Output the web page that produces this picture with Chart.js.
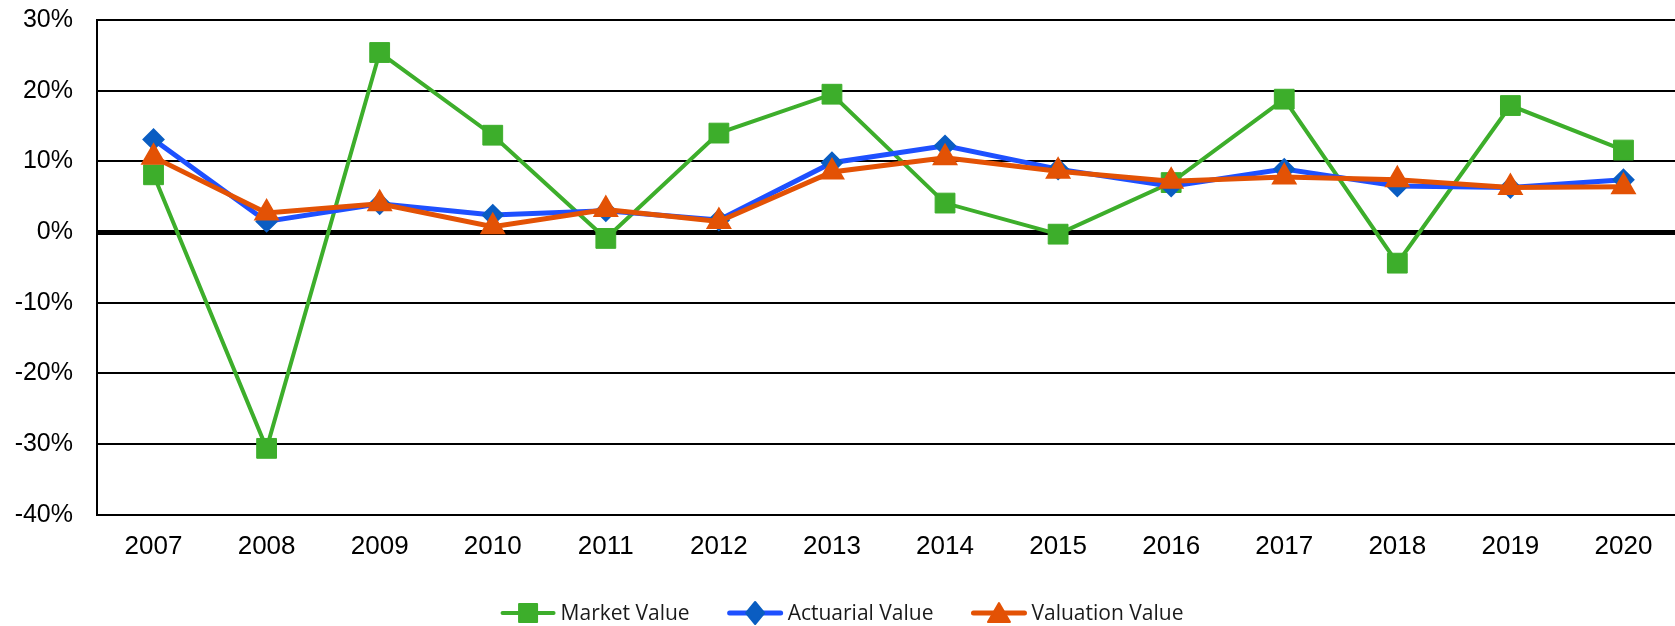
<!DOCTYPE html>
<html>
<head>
<meta charset="utf-8">
<script src="https://cdn.jsdelivr.net/npm/chart.js@4"></script>
<style>
  html, body { margin: 0; padding: 0; background: #fff; overflow: hidden; }
  #wrap { width: 1675px; height: 626px; overflow: hidden; position: relative; }
  canvas { display: block; }
</style>
</head>
<body>
<div id="wrap"><canvas id="c" width="1680" height="626"></canvas></div>
<script>
const years = ['2007','2008','2009','2010','2011','2012','2013','2014','2015','2016','2017','2018','2019','2020'];
const marketValue = [8.1, -30.6, 25.4, 13.7, -0.9, 14.0, 19.5, 4.1, -0.3, 7.0, 18.8, -4.4, 17.9, 11.6];
const actuarialValue = [13.1, 1.5, 4.0, 2.4, 3.0, 1.7, 9.8, 12.2, 8.9, 6.5, 8.9, 6.5, 6.3, 7.4];
const valuationValue = [10.6, 2.7, 4.0, 0.75, 3.2, 1.5, 8.5, 10.5, 8.6, 7.2, 7.8, 7.4, 6.3, 6.4];
const seriesNames = ['Market Value', 'Actuarial Value', 'Valuation Value'];
const yMin = -40, yMax = 30, yStep = 10;

const GREEN = '#3DAE2B';
const BLUE_LINE = '#1E50FF';
const BLUE_MARK = '#0A5DC2';
const ORANGE = '#E35205';

const legendSpec = [
  { text: seriesNames[0], line: GREEN, mark: GREEN, lw: 4, shape: 'square' },
  { text: seriesNames[1], line: BLUE_LINE, mark: BLUE_MARK, lw: 5, shape: 'diamond' },
  { text: seriesNames[2], line: ORANGE, mark: ORANGE, lw: 5, shape: 'triangle' }
];

function drawShape(ctx, shape, x, y, color) {
  ctx.save();
  ctx.fillStyle = color;
  ctx.strokeStyle = color;
  ctx.lineJoin = 'round';
  ctx.lineWidth = 2;
  ctx.beginPath();
  if (shape === 'square') {
    ctx.rect(x - 9, y - 9, 18, 18);
  } else if (shape === 'diamond') {
    ctx.moveTo(x, y - 11); ctx.lineTo(x + 9, y); ctx.lineTo(x, y + 11); ctx.lineTo(x - 9, y); ctx.closePath();
  } else {
    ctx.moveTo(x, y - 10); ctx.lineTo(x + 11, y + 9); ctx.lineTo(x - 11, y + 9); ctx.closePath();
  }
  ctx.fill(); ctx.stroke();
  ctx.restore();
}

const lineLegend = {
  id: 'lineLegend',
  afterDraw(chart) {
    const ctx = chart.ctx;
    ctx.save();
    ctx.font = '21px "Open Sans"';
    ctx.textBaseline = 'middle';
    ctx.fillStyle = '#1a1a1a';
    const lineLen = 55, gapText = 5, gapItem = 38;
    const widths = legendSpec.map(s => lineLen + gapText + ctx.measureText(s.text).width);
    const total = widths.reduce((a, b) => a + b, 0) + gapItem * (legendSpec.length - 1);
    let x = 842 - total / 2;
    const y = 613;
    legendSpec.forEach((s, i) => {
      ctx.save();
      ctx.strokeStyle = s.line;
      ctx.lineWidth = s.lw;
      ctx.lineCap = 'round';
      ctx.beginPath(); ctx.moveTo(x + 2, y); ctx.lineTo(x + lineLen - 2, y); ctx.stroke();
      ctx.restore();
      drawShape(ctx, s.shape, x + lineLen / 2, y, s.mark);
      ctx.fillText(s.text, x + lineLen + gapText, y + 1);
      x += widths[i] + gapItem;
    });
    ctx.restore();
  }
};

new Chart(document.getElementById('c'), {
  type: 'line',
  data: {
    labels: years,
    datasets: [
      {
        label: seriesNames[0], data: marketValue, order: 3,
        borderColor: GREEN, backgroundColor: GREEN, borderWidth: 4,
        pointStyle: 'rect', pointRadius: 14, pointHoverRadius: 14,
        pointBackgroundColor: GREEN, pointBorderColor: GREEN, pointBorderWidth: 1,
        tension: 0
      },
      {
        label: seriesNames[1], data: actuarialValue, order: 2,
        borderColor: BLUE_LINE, backgroundColor: BLUE_MARK, borderWidth: 5,
        pointStyle: 'rectRot', pointRadius: 10, pointHoverRadius: 10,
        pointBackgroundColor: BLUE_MARK, pointBorderColor: BLUE_MARK, pointBorderWidth: 2,
        tension: 0
      },
      {
        label: seriesNames[2], data: valuationValue, order: 1,
        borderColor: ORANGE, backgroundColor: ORANGE, borderWidth: 5,
        pointStyle: 'triangle', pointRadius: 13, pointHoverRadius: 13,
        pointBackgroundColor: ORANGE, pointBorderColor: ORANGE, pointBorderWidth: 2,
        tension: 0
      }
    ]
  },
  options: {
    responsive: false,
    animation: false,
    devicePixelRatio: 1,
    layout: { autoPadding: false, padding: { top: 20, right: 0, left: 0, bottom: 48 } },
    plugins: {
      legend: { display: false },
      tooltip: { enabled: false }
    },
    scales: {
      x: {
        offset: true,
        grid: { display: false, drawTicks: false },
        border: { display: false },
        ticks: {
          color: '#000',
          padding: 16,
          maxRotation: 0,
          autoSkip: false,
          font: { family: '"Liberation Sans", Arial, sans-serif', size: 26 }
        }
      },
      y: {
        min: yMin, max: yMax,
        afterFit(scale) { scale.width = 97; scale.paddingTop = 0; scale.paddingBottom = 0; },
        grid: {
          drawTicks: false,
          color: '#000',
          lineWidth: (c) => (c.tick && c.tick.value === 0 ? 5 : 2)
        },
        border: { display: true, color: '#000', width: 2 },
        ticks: {
          stepSize: yStep,
          color: '#000',
          padding: 24,
          font: { family: '"Liberation Sans", Arial, sans-serif', size: 25 },
          callback: (v) => v + '%'
        }
      }
    }
  },
  plugins: [lineLegend]
});
</script>
</body>
</html>
